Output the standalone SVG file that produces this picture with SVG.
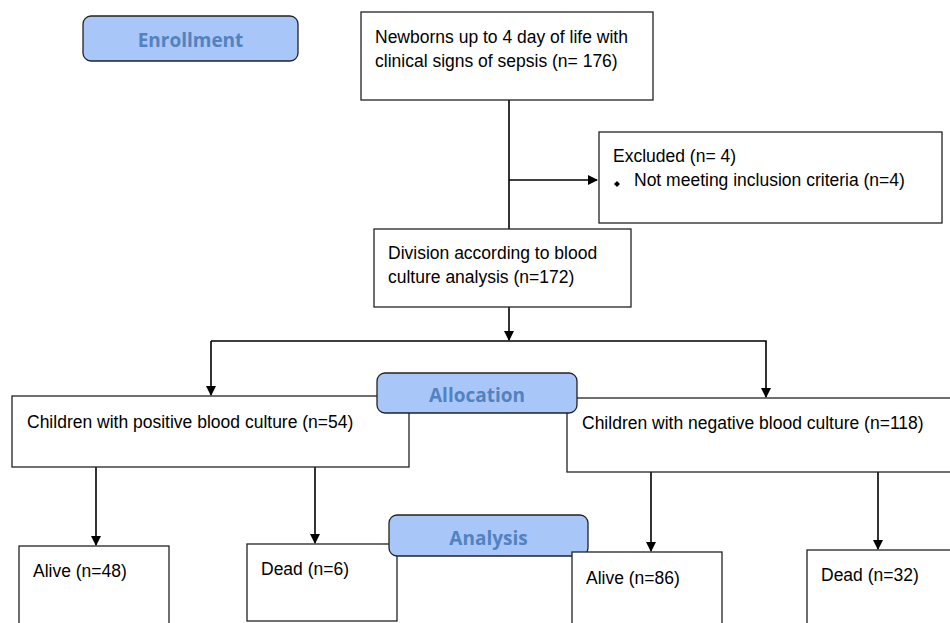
<svg xmlns="http://www.w3.org/2000/svg" width="950" height="623" viewBox="0 0 950 623">
<defs>
<marker id="ah" markerWidth="10" markerHeight="10" refX="9" refY="5" orient="auto" markerUnits="userSpaceOnUse"><path d="M0,0 L10,5 L0,10 Z" fill="#000"/></marker>
<style>
.box{fill:#fff;stroke:#222;stroke-width:1.3}
.hdr{fill:#a9c6f8;stroke:#222;stroke-width:1.3}
.t{font-family:"Liberation Sans",Arial,sans-serif;font-size:17.5px;fill:#000}
.h{font-family:"Open Sans","Noto Sans",sans-serif;font-weight:bold;font-size:19px;fill:#5282bf;text-anchor:middle}
.c{fill:none;stroke:#000;stroke-width:1.6}
</style>
</defs>
<rect width="950" height="623" fill="#fff"/>
<g id="connectors">
<line class="c" x1="509" y1="100" x2="509" y2="229"/>
<line class="c" x1="509" y1="180" x2="597" y2="180" marker-end="url(#ah)"/>
<line class="c" x1="509" y1="307" x2="509" y2="340" marker-end="url(#ah)"/>
<polyline class="c" points="211,341 766,341 766,397" marker-end="url(#ah)"/>
<line class="c" x1="211" y1="341" x2="211" y2="395" marker-end="url(#ah)"/>
<line class="c" x1="96" y1="467" x2="96" y2="545" marker-end="url(#ah)"/>
<line class="c" x1="315" y1="467" x2="315" y2="543" marker-end="url(#ah)"/>
<line class="c" x1="651" y1="472" x2="651" y2="551" marker-end="url(#ah)"/>
<line class="c" x1="878" y1="472" x2="878" y2="549" marker-end="url(#ah)"/>
</g>
<g id="enrollment"><rect class="hdr" x="83" y="16" width="215" height="45" rx="8"/><text class="h" x="190.5" y="47">Enrollment</text></g>
<g id="newborns"><rect class="box" x="361" y="12" width="292" height="88"/><text class="t" x="375" y="43">Newborns up to 4 day of life with</text><text class="t" x="375" y="67">clinical signs of sepsis (n= 176)</text></g>
<g id="excluded"><rect class="box" x="599" y="132" width="343" height="91"/><text class="t" x="613" y="162">Excluded (n= 4)</text><path d="M617,181 L620,184 L617,187 L614,184 Z" fill="#000"/><text class="t" x="634" y="186">Not meeting inclusion criteria (n=4)</text></g>
<g id="division"><rect class="box" x="374" y="229" width="257" height="78"/><text class="t" x="388" y="259">Division according to blood</text><text class="t" x="388" y="283">culture analysis (n=172)</text></g>
<g id="positive"><rect class="box" x="12" y="396" width="397" height="71"/><text class="t" x="27" y="428">Children with positive blood culture (n=54)</text></g>
<g id="negative"><rect class="box" x="567" y="398" width="390" height="74"/><text class="t" x="582" y="429">Children with negative blood culture (n=118)</text></g>
<g id="allocation"><rect class="hdr" x="377" y="373" width="200" height="40" rx="8"/><text class="h" x="477" y="402">Allocation</text></g>
<g id="alive48"><rect class="box" x="19" y="546" width="150" height="82"/><text class="t" x="33" y="577">Alive (n=48)</text></g>
<g id="dead6"><rect class="box" x="247" y="544" width="150" height="77"/><text class="t" x="261" y="575">Dead (n=6)</text></g>
<g id="analysis"><rect class="hdr" x="389" y="515" width="199" height="41" rx="8"/><text class="h" x="488.5" y="545">Analysis</text></g>
<g id="alive86"><rect class="box" x="572" y="552" width="150" height="80"/><text class="t" x="586" y="584">Alive (n=86)</text></g>
<g id="dead32"><rect class="box" x="807" y="550" width="150" height="80"/><text class="t" x="821" y="581">Dead (n=32)</text></g>
</svg>
